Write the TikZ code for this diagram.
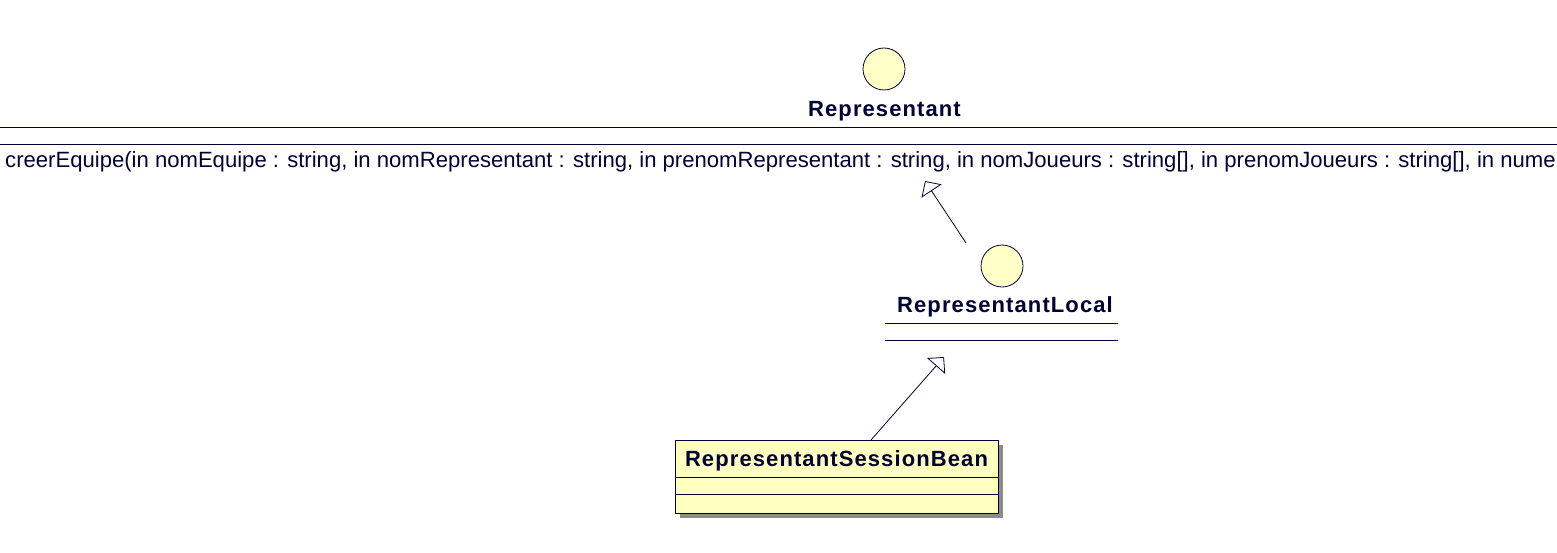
\documentclass[tikz,border=0pt]{standalone}
\usepackage{fontspec}
\setmainfont{Liberation Sans}
\usetikzlibrary{arrows.meta}
\definecolor{ink}{HTML}{000033}
\definecolor{ifill}{HTML}{FFFFC8}
\definecolor{cfill}{HTML}{FFFFC0}
\definecolor{shade}{HTML}{8C8C8C}
\begin{document}
\begin{tikzpicture}[x=1pt,y=-1pt,
  title/.style={font=\fontsize{22}{25}\selectfont\bfseries\addfontfeature{LetterSpace=5}, text=ink, inner sep=0pt, anchor=base},
  oper/.style={font=\fontsize{22.1}{25}\selectfont, text=ink, inner sep=0pt, anchor=base west},
  iface/.style={circle, draw=ink, fill=ifill, minimum size=42pt, inner sep=0pt, line width=0.8pt},
  sep/.style={draw=ink, line width=0.9pt},
  gen/.style={draw=ink, line width=0.8pt, -{Triangle[open, length=12pt, width=24pt, fill=white]}},
  classbox/.style={draw=ink, fill=cfill, line width=0.9pt, minimum width=323pt, minimum height=73pt, inner sep=0pt},
  shadowbox/.style={fill=shade, minimum width=323pt, minimum height=73pt, inner sep=0pt}
]
\useasboundingbox[fill=white] (0,0) rectangle (1557,553);
\clip (0,0) rectangle (1557,553);

% Representant interface
\node[iface] (rep) at (884,69) {};
\node[title] (repname) at (884.5,117) {Representant};
\draw[sep] (0,127) -- (1557,127);
\draw[sep] (0,144) -- (1557,144);
\node[oper] (repop) at (5,168) {creerEquipe(in nomEquipe : string, in nomRepresentant : string, in prenomRepresentant : string, in nomJoueurs : string[], in prenomJoueurs : string[], in nume};

% RepresentantLocal interface
\node[iface] (loc) at (1002,266) {};
\node[title] (locname) at (1005,312) {RepresentantLocal};
\draw[sep] (885,323) -- (1118,323);
\draw[sep] (885,340) -- (1118,340);

% RepresentantSessionBean class
\node[shadowbox] (beanshadow) at (841.5,481.5) {};
\node[classbox] (bean) at (836.5,476.5) {};
\node[title] (beanname) at (836.5,466) {RepresentantSessionBean};
\draw[sep] (bean.west |- 0,477) -- (bean.east |- 0,477);
\draw[sep] (bean.west |- 0,494) -- (bean.east |- 0,494);

% generalizations
\coordinate (g1s) at (966,243);
\coordinate (g1e) at (925,181);
\coordinate (g2s) at (871,440);
\coordinate (g2e) at (944,357);
\draw[gen] (g1s) -- (g1e);
\draw[gen] (g2s) -- (g2e);
\end{tikzpicture}
\end{document}
